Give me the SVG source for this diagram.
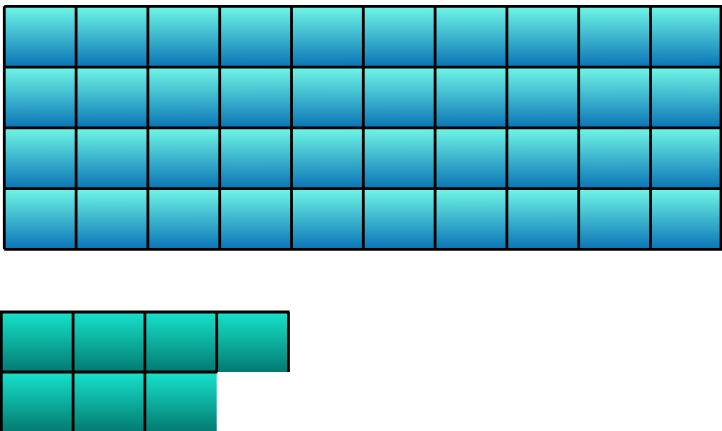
<svg xmlns="http://www.w3.org/2000/svg" width="722" height="431" viewBox="0 0 722 431">
<defs>
<linearGradient id="gTop" x1="0" y1="0" x2="0" y2="1">
<stop offset="0" stop-color="#70f7e6"/>
<stop offset="1" stop-color="#0a74b6"/>
</linearGradient>
<linearGradient id="gBot" x1="0" y1="0" x2="0" y2="1">
<stop offset="0" stop-color="#16e3cc"/>
<stop offset="1" stop-color="#037a70"/>
</linearGradient>
<pattern id="pTop" x="4.3" y="6.3" width="71.8" height="60.75" patternUnits="userSpaceOnUse">
<rect width="71.8" height="60.75" fill="url(#gTop)"/>
</pattern>
<pattern id="pBot" x="1.3" y="312" width="71.8" height="60" patternUnits="userSpaceOnUse">
<rect width="71.8" height="60" fill="url(#gBot)"/>
</pattern>
</defs>
<style>
.ln{stroke:#000;stroke-width:2.8;fill:none}
</style>
<rect width="722" height="431" fill="#fff"/>
<g id="top-grid">
<rect x="4.3" y="6.3" width="718" height="243" fill="url(#pTop)"/>
<path class="ln" d="M4.3 6.3H722M4.3 67.05H722M4.3 127.8H722M4.3 188.55H722M4.3 249.3H722
M4.3 6.3V249.3M76.1 6.3V249.3M147.9 6.3V249.3M219.7 6.3V249.3M291.5 6.3V249.3M363.3 6.3V249.3M435.1 6.3V249.3M506.9 6.3V249.3M578.7 6.3V249.3M650.5 6.3V249.3M721 6.3V249.3"/>
</g>
<g id="bottom-grid">
<rect x="1.3" y="312" width="287.2" height="60" fill="url(#pBot)"/>
<rect x="1.3" y="372" width="215.4" height="60" fill="url(#pBot)"/>
<path class="ln" d="M0 312H289.6M0 372H217.4
M1.3 312V431M73.1 312V431M144.9 312V431M216.7 312V372M288.5 312V372"/>
</g>
</svg>
